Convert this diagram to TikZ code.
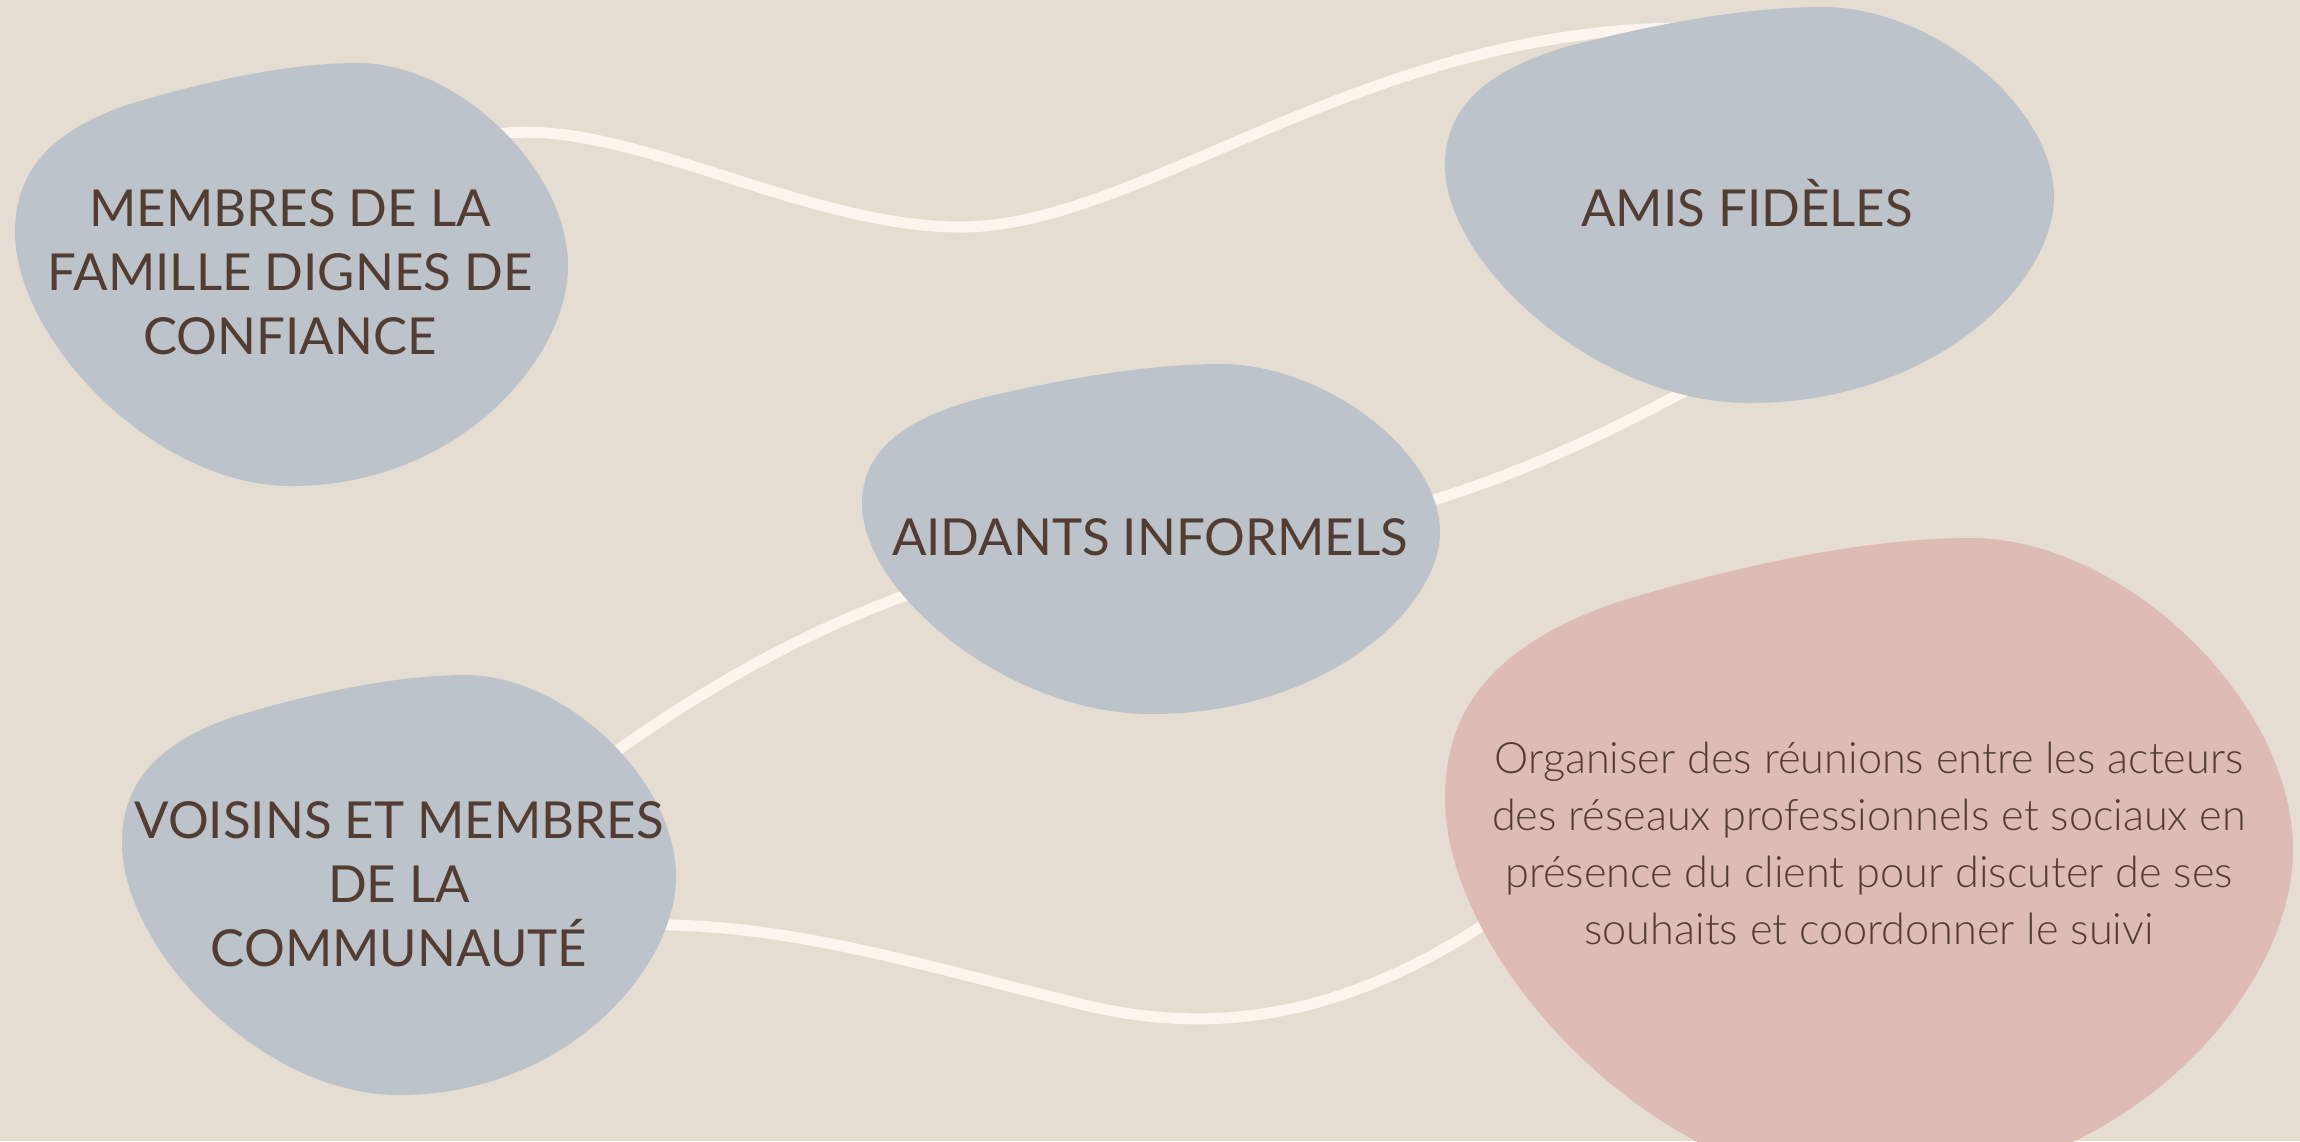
\documentclass[tikz,border=0pt]{standalone}
\usepackage{fontspec}
\setmainfont{Lato}
\newfontfamily\lightfont{Lato Light}
\definecolor{bgc}{HTML}{E5DCD2}
\definecolor{blobblue}{HTML}{BCC3CB}
\definecolor{blobpink}{HTML}{DFBBB5}
\definecolor{txtc}{HTML}{533C32}
\definecolor{linkc}{HTML}{FDF4EE}
\newcommand\blobshape{(0.62,0) .. controls (0.80,0) and (1.0,0.25) .. (1.0,0.48) .. controls (1.0,0.70) and (0.80,1.0) .. (0.5,1.0) .. controls (0.25,1.0) and (0.0,0.65) .. (0.0,0.40) .. controls (0.0,0.25) and (0.07,0.16) .. (0.2,0.1) .. controls (0.35,0.04) and (0.5,0.0) .. (0.62,0) -- cycle}
\begin{document}
\begin{tikzpicture}[x=0.01cm,y=-0.01cm,
  link/.style={draw=linkc, line width=0.11cm, line cap=round},
  captext/.style={text=txtc, align=center, inner sep=0pt, font=\fontsize{14.5}{18.2}\selectfont},
  bodytext/.style={text=txtc, align=center, inner sep=0pt, font=\lightfont\fontsize{12.3}{16.2}\selectfont}]
\useasboundingbox (0,0) rectangle (2300,1141);
\fill[bgc] (0,0) rectangle (2300,1141);
% connector end points (inside the blobs)
\coordinate (p1) at (470,140);
\coordinate (p2) at (1740,30);
\coordinate (p3) at (1380,515);
\coordinate (p4) at (590,770);
\coordinate (p5) at (950,580);
\coordinate (p6) at (620,925);
\coordinate (p7) at (1560,870);
\coordinate (m1) at (961,227);
\coordinate (m2) at (1085,1005);
% connectors
\draw[link] (p1) .. controls (600,100) and (790,227) .. (m1) .. controls (1150,227) and (1390,5) .. (p2);
\draw[link] (p3) .. controls (1500,485) and (1620,430) .. (1740,360);
\draw[link] (p4) .. controls (700,690) and (810,625) .. (p5);
\draw[link] (p6) .. controls (780,920) and (900,960) .. (m2) .. controls (1270,1050) and (1420,980) .. (p7);
% blobs
\begin{scope}[shift={(15,63)},xscale=553,yscale=423]
  \fill[blobblue] \blobshape;
\end{scope}
\begin{scope}[shift={(1445,7)},xscale=609,yscale=396]
  \fill[blobblue] \blobshape;
\end{scope}
\begin{scope}[shift={(862,364)},xscale=578,yscale=350]
  \fill[blobblue] \blobshape;
\end{scope}
\begin{scope}[shift={(122,675)},xscale=554,yscale=420]
  \fill[blobblue] \blobshape;
\end{scope}
\begin{scope}[shift={(1445,538)},xscale=848,yscale=650]
  \fill[blobpink] \blobshape;
\end{scope}
% texts
\node[captext] (t1) at (290,272) {MEMBRES DE LA\\FAMILLE DIGNES DE\\CONFIANCE};
\node[captext] (t2) at (1747,203) {AMIS FIDÈLES};
\node[captext] (t3) at (1150,537) {AIDANTS INFORMELS};
\node[captext] (t4) at (399,884) {VOISINS ET MEMBRES\\DE LA\\COMMUNAUTÉ};
\node[bodytext] (t5) at (1869,843) {Organiser des réunions entre les acteurs\\des réseaux professionnels et sociaux en\\présence du client pour discuter de ses\\souhaits et coordonner le suivi};
\end{tikzpicture}
\end{document}
